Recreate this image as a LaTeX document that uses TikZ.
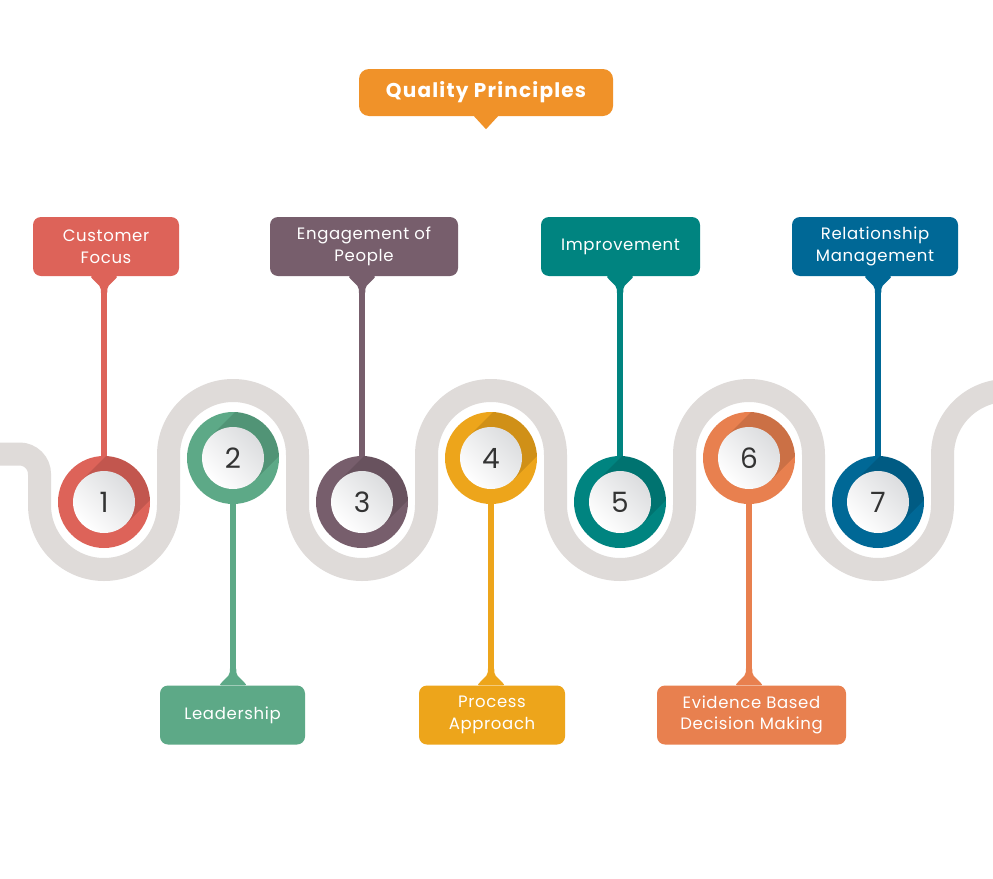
\documentclass[tikz,border=0pt]{standalone}
\usepackage{fontspec}
\setmainfont{Poppins}
\usetikzlibrary{positioning}

\definecolor{roadgray}{HTML}{DFDBD9}
\definecolor{discgray}{HTML}{DCDDDF}
\definecolor{numgray}{HTML}{333333}
\definecolor{ctitle}{HTML}{F09229}
\definecolor{cfocus}{HTML}{DD6359}
\definecolor{clead}{HTML}{5DA987}
\definecolor{cengage}{HTML}{775E6C}
\definecolor{cprocess}{HTML}{EDA51B}
\definecolor{cimprove}{HTML}{008480}
\definecolor{cevidence}{HTML}{E8804F}
\definecolor{crelation}{HTML}{006896}

\tikzset{
	road/.style={draw=roadgray, line width=23pt},
	stem/.style={line width=6.5pt},
	tagbox/.style={rounded corners=8pt, text=white, align=center, minimum height=59pt,
		inner sep=0pt, font=\fontsize{16.5}{21.5}\selectfont\addfontfeatures{LetterSpace=4}},
	titlebox/.style={rounded corners=10pt, fill=ctitle, text=white, minimum width=254pt,
		minimum height=47pt, inner sep=0pt, font=\bfseries\fontsize{20}{24}\selectfont\addfontfeatures{LetterSpace=6}},
	ring/.style={circle, minimum size=92pt, inner sep=0pt},
	disc/.style={circle, minimum size=62pt, inner sep=0pt, top color=discgray, bottom color=white,
		shading angle=-45, text=numgray, font=\fontsize{28}{28}\selectfont},
	flare/.pic={\fill[rounded corners=2pt] (-14,0) -- (-3.25,11) -- (-3.25,18) -- (3.25,18) -- (3.25,11) -- (14,0) -- cycle;}
}

\begin{document}
\begin{tikzpicture}[x=1pt, y=-1pt]
	\useasboundingbox (0,0) rectangle (993,878);
	\fill[white] (0,0) rectangle (993,878);
	\clip (0,0) rectangle (993,878);

	% the winding road
	\draw[road] (0,454) -- (19.5,454) arc[start angle=270, end angle=360, radius=20]
		-- (39.5,505) arc[start angle=180, end angle=0, radius=64.5]
		-- (168.5,455) arc[start angle=180, end angle=360, radius=64.5]
		-- (297.5,505) arc[start angle=180, end angle=0, radius=64.5]
		-- (426.5,455) arc[start angle=180, end angle=360, radius=64.5]
		-- (555.5,505) arc[start angle=180, end angle=0, radius=64.5]
		-- (684.5,455) arc[start angle=180, end angle=360, radius=64.5]
		-- (813.5,505) arc[start angle=180, end angle=0, radius=64.5]
		-- (942.5,455) arc[start angle=180, end angle=270, radius=64.5] -- ++(20,0);

	% numbered circles
	\foreach \n/\cx/\cy/\col in {1/104/502/cfocus, 2/233/458/clead, 3/362/502/cengage,
		4/491/458/cprocess, 5/620/502/cimprove, 6/749/458/cevidence, 7/878/502/crelation}{
		\node[ring, fill=\col] (c\n) at (\cx,\cy) {};
		\begin{scope}
			\clip (c\n) circle [radius=46];
			\fill[black, opacity=.12] ([shift={(-22,-22)}]c\n.center) -- ++(60,-60) -- ++(44,44) -- ++(-60,60) -- cycle;
		\end{scope}
		\node[disc] (d\n) at (c\n) {\n};
	}

	% title
	\node[titlebox] (title) at (486,92.5) {Quality Principles};
	\fill[ctitle] ([xshift=-12pt]title.south) -- ([yshift=-13pt]title.south) -- ([xshift=12pt]title.south) -- cycle;

	% labels
	\node[tagbox, fill=cfocus, minimum width=146pt] (b1) at (106,246.5) {Customer\\Focus};
	\node[tagbox, fill=clead, minimum width=145pt] (b2) at (232.5,715) {Leadership};
	\node[tagbox, fill=cengage, minimum width=188pt] (b3) at (364,246.5) {Engagement of\\People};
	\node[tagbox, fill=cprocess, minimum width=146pt] (b4) at (492,715) {Process\\Approach};
	\node[tagbox, fill=cimprove, minimum width=159pt] (b5) at (620.5,246.5) {Improvement};
	\node[tagbox, fill=cevidence, minimum width=189pt] (b6) at (751.5,715) {Evidence Based\\Decision Making};
	\node[tagbox, fill=crelation, minimum width=166pt] (b7) at (875,246.5) {Relationship\\Management};

	% stems
	\draw[stem, cfocus] (b1.south -| c1) -- (c1.north);
	\draw[stem, cengage] (b3.south -| c3) -- (c3.north);
	\draw[stem, cimprove] (b5.south -| c5) -- (c5.north);
	\draw[stem, crelation] (b7.south -| c7) -- (c7.north);
	\draw[stem, clead] (c2.south) -- (b2.north -| c2);
	\draw[stem, cprocess] (c4.south) -- (b4.north -| c4);
	\draw[stem, cevidence] (c6.south) -- (b6.north -| c6);
	\pic[fill=cfocus] at (b1.south -| c1) {flare};
	\pic[fill=cengage] at (b3.south -| c3) {flare};
	\pic[fill=cimprove] at (b5.south -| c5) {flare};
	\pic[fill=crelation] at (b7.south -| c7) {flare};
	\pic[fill=clead, yscale=-1] at (b2.north -| c2) {flare};
	\pic[fill=cprocess, yscale=-1] at (b4.north -| c4) {flare};
	\pic[fill=cevidence, yscale=-1] at (b6.north -| c6) {flare};
\end{tikzpicture}
\end{document}
